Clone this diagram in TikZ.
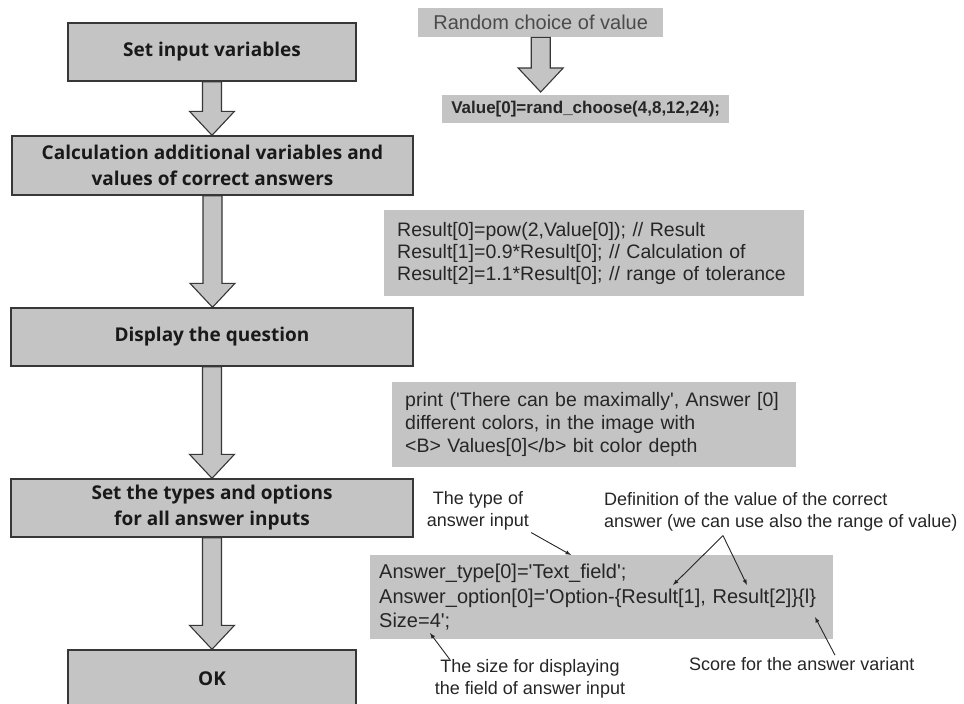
\documentclass[tikz,border=0pt]{standalone}
\usepackage{fontspec}
\setmainfont{Liberation Sans}
\newfontfamily\stepfont{Open Sans}
\usetikzlibrary{shapes,arrows,positioning,calc}

\definecolor{boxgray}{RGB}{196,196,196}
\definecolor{edgegray}{RGB}{55,55,55}
\definecolor{inkgray}{RGB}{75,75,75}
\newcommand{\apos}{\textquotesingle}

\tikzset{
  stepbox/.style={draw=edgegray, line width=1.4pt, fill=boxgray, text=black!90,
    font=\stepfont\bfseries\fontsize{19}{26}\selectfont, align=center, inner sep=0pt},
  codebox/.style={fill=boxgray, inner xsep=13pt, inner ysep=0pt, align=left,
    font=\fontsize{19.5}{22}\selectfont, text=black!85, anchor=north west},
  note/.style={font=\fontsize{18}{22}\selectfont, text=black!85, inner sep=2pt},
  blockarr/.style={draw=edgegray, line width=1.1pt, fill=boxgray, line join=miter},
  notearr/.style={-latex, line width=0.9pt, black!85},
}

\newcommand{\fatarrow}[2]{%
  \draw[blockarr] let \p1=(#1), \p2=(#2) in
    (\x1-9.5pt,\y1) -- (\x1-9.5pt,\y2+24pt) -- (\x1-22.5pt,\y2+24pt) -- (\x1,\y2)
    -- (\x1+22.5pt,\y2+24pt) -- (\x1+9.5pt,\y2+24pt) -- (\x1+9.5pt,\y1) -- cycle;}

\begin{document}
\hyphenpenalty=10000
\exhyphenpenalty=10000
\begin{tikzpicture}[x=1pt, y=-1pt]
  \useasboundingbox[fill=white] (0,0) rectangle (964,704);

  % main steps
  \node[stepbox, minimum width=288pt, minimum height=58pt] (setin) at (212,52) {Set input variables};
  \node[stepbox, minimum width=401pt, minimum height=59pt] (calc) at (212.5,165.5)
    {Calculation additional variables and\\values of correct answers};
  \node[stepbox, minimum width=402pt, minimum height=58pt] (disp) at (212,337) {Display the question};
  \node[stepbox, minimum width=402pt, minimum height=58pt] (types) at (212,508)
    {Set the types and options\\for all answer inputs};
  \node[stepbox, minimum width=288pt, minimum height=58pt] (ok) at (212,679) {OK};

  \fatarrow{setin.south}{calc.north}
  \fatarrow{calc.south}{disp.north}
  \fatarrow{disp.south}{types.north}
  \fatarrow{types.south}{ok.north}

  % code on the right
  \node[codebox, inner xsep=0pt, minimum width=245pt, minimum height=29pt, align=center,
    font=\fontsize{20}{22}\selectfont, text=inkgray] (rnd) at (418,8) {Random choice of value};
  \node[codebox, inner xsep=0pt, minimum width=287pt, minimum height=28pt, align=center,
    font=\bfseries\fontsize{17}{20}\selectfont] (val) at (442,95) {Value[0]=rand\_choose(4,8,12,24);};
  \coordinate (valtop) at ($(rnd.south |- val.north)+(0,-3)$);
  \fatarrow{rnd.south}{valtop}

  \node[codebox, text width=394pt, minimum height=86pt] (res) at (384,210)
    {Result[0]=pow(2,Value[0]); // Result\\
     Result[1]=0.9*Result[0]; // Calculation of\\
     Result[2]=1.1*Result[0]; // range of tolerance};
  \node[codebox, text width=378pt, minimum height=85pt, font=\fontsize{19.5}{23}\selectfont] (prt) at (392,382)
    {print (\apos There can be maximally\apos, Answer [0]\\
     different colors, in the image with\\
     <B> Values[0]</b> bit color depth};
  \node[codebox, inner xsep=9pt, text width=445pt, minimum height=84pt,
    font=\fontsize{20}{24.5}\selectfont] (ans) at (370,555)
    {Answer\_type[0]=\apos Text\_field\apos;\\
     Answer\_option[0]=\apos Option-\{Result[1], Result[2]\}\{l\}\\
     Size=4\apos;};

  % notes
  \node[note, align=center] (typelbl) at (478,511) {The type of\\answer input};
  \node[note, align=left, anchor=west] (defl) at (602,512)
    {Definition of the value of the correct\\answer (we can use also the range of value)};
  \node[note, align=center] (sizel) at (530,679) {The size for displaying\\the field of answer input};
  \node[note, anchor=west] (scorel) at (687,664) {Score for the answer variant};

  \coordinate (typetip) at (571,555);
  \coordinate (apex) at ($(defl.south west)+(121,2)$);
  \coordinate (r1tip) at (673,585);
  \coordinate (r2tip) at (747,585);
  \coordinate (sizetip) at (430,633);
  \coordinate (scoretip) at (815,617);

  \draw[notearr] (typelbl.south east) -- (typetip);
  \draw[notearr] (apex) -- (r1tip);
  \draw[notearr] (apex) -- (r2tip);
  \draw[notearr] ($(sizel.north west)+(17,2)$) -- (sizetip);
  \draw[notearr] ($(scorel.north west)+(148,0)$) -- (scoretip);
\end{tikzpicture}
\end{document}
